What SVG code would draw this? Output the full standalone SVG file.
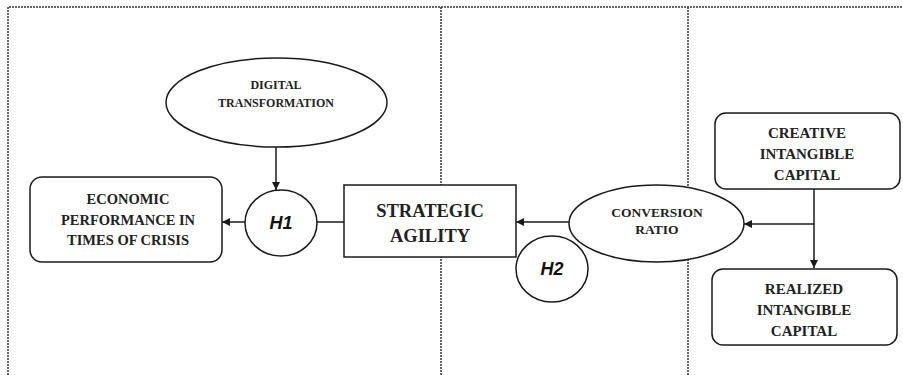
<svg xmlns="http://www.w3.org/2000/svg" width="903" height="375" viewBox="0 0 903 375">
<style>
.frame{fill:none;stroke:#333;stroke-width:1.5;stroke-dasharray:2 1}
.shape{fill:#fff;stroke:#1a1a1a;stroke-width:1.5}
.conn{fill:none;stroke:#1a1a1a;stroke-width:1.5}
.t{font-family:"Liberation Serif","Times New Roman",serif;font-weight:bold;fill:#222;text-anchor:middle}
.h{font-family:"Liberation Sans",Arial,sans-serif;font-weight:bold;font-style:italic;fill:#111;text-anchor:middle;font-size:18px}
</style>
<defs>
<marker id="arr" viewBox="0 0 10 10" refX="10" refY="5" markerWidth="8" markerHeight="8" markerUnits="userSpaceOnUse" orient="auto">
<path d="M0,0 L10,5 L0,10 Z" fill="#1a1a1a"/>
</marker>
</defs>
<g id="frame">
<path class="frame" d="M8,375 V7 H903"/>
<line class="frame" x1="441" y1="7" x2="441" y2="375"/>
<line class="frame" x1="688" y1="7" x2="688" y2="375"/>
</g>
<g id="connectors">
<line class="conn" x1="276" y1="147" x2="276" y2="190" marker-end="url(#arr)"/>
<line class="conn" x1="344" y1="222" x2="317" y2="222"/>
<line class="conn" x1="245" y1="222" x2="222" y2="222" marker-end="url(#arr)"/>
<line class="conn" x1="569" y1="222" x2="516" y2="222" marker-end="url(#arr)"/>
<line class="conn" x1="814" y1="189" x2="814" y2="268" marker-end="url(#arr)"/>
<line class="conn" x1="814" y1="224" x2="744" y2="224" marker-end="url(#arr)"/>
</g>
<g id="digital-transformation">
<ellipse class="shape" cx="276.5" cy="102.5" rx="110.5" ry="44.5"/>
<text class="t" font-size="12" x="276" y="89">DIGITAL</text>
<text class="t" font-size="12" x="276" y="107">TRANSFORMATION</text>
</g>
<g id="h1">
<ellipse class="shape" cx="281" cy="223" rx="36" ry="33"/>
<text class="h" x="281" y="229">H1</text>
</g>
<g id="economic-performance">
<rect class="shape" x="30" y="177" width="192" height="85" rx="12"/>
<text class="t" font-size="14.5" x="128" y="204">ECONOMIC</text>
<text class="t" font-size="14.5" x="128" y="225">PERFORMANCE IN</text>
<text class="t" font-size="14.5" x="128" y="245">TIMES OF CRISIS</text>
</g>
<g id="strategic-agility">
<rect class="shape" x="344" y="185" width="172" height="72"/>
<text class="t" font-size="18.5" x="430" y="217">STRATEGIC</text>
<text class="t" font-size="18.5" x="430" y="242">AGILITY</text>
</g>
<g id="h2">
<ellipse class="shape" cx="552" cy="269" rx="36" ry="33"/>
<text class="h" x="552" y="275">H2</text>
</g>
<g id="conversion-ratio">
<ellipse class="shape" cx="656.5" cy="223.5" rx="87.5" ry="38.5"/>
<text class="t" font-size="13.5" x="657" y="217">CONVERSION</text>
<text class="t" font-size="13.5" x="657" y="234">RATIO</text>
</g>
<g id="creative-intangible-capital">
<rect class="shape" x="715" y="113" width="185" height="76" rx="11"/>
<text class="t" font-size="15" x="807" y="138">CREATIVE</text>
<text class="t" font-size="15" x="807" y="159">INTANGIBLE</text>
<text class="t" font-size="15" x="807" y="180">CAPITAL</text>
</g>
<g id="realized-intangible-capital">
<rect class="shape" x="712" y="269" width="185" height="76" rx="11"/>
<text class="t" font-size="15" x="804" y="294">REALIZED</text>
<text class="t" font-size="15" x="804" y="315">INTANGIBLE</text>
<text class="t" font-size="15" x="804" y="336">CAPITAL</text>
</g>
</svg>
